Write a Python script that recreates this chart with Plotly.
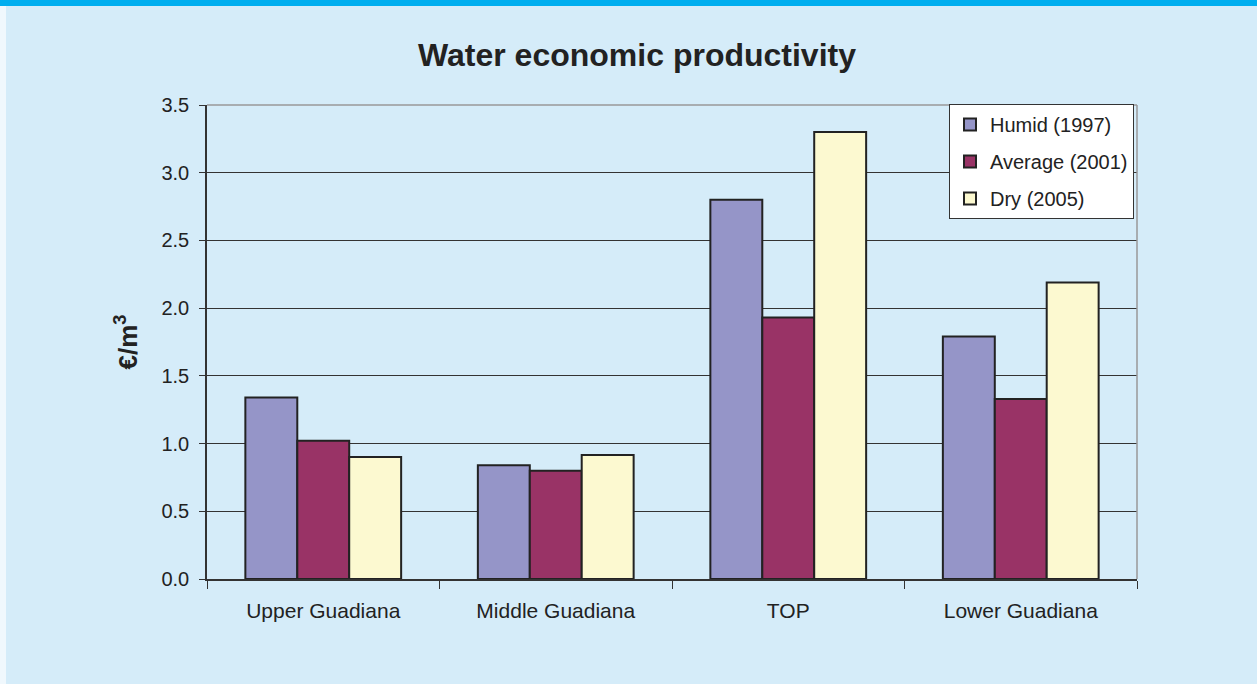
import plotly.graph_objects as go

categories = ["Upper Guadiana", "Middle Guadiana", "TOP", "Lower Guadiana"]
humid_1997 = [1.34, 0.84, 2.80, 1.79]
average_2001 = [1.02, 0.80, 1.93, 1.33]
dry_2005 = [0.90, 0.915, 3.30, 2.19]
y_ticks = [0.0, 0.5, 1.0, 1.5, 2.0, 2.5, 3.0, 3.5]
y_tick_labels = ["0.0", "0.5", "1.0", "1.5", "2.0", "2.5", "3.0", "3.5"]

series = [
    ("Humid (1997)", humid_1997, "#9595C8"),
    ("Average (2001)", average_2001, "#993366"),
    ("Dry (2005)", dry_2005, "#FCF9D0"),
]

fig = go.Figure()
for i, (name, vals, col) in enumerate(series):
    fig.add_trace(go.Bar(
        x=categories, y=vals, name=name, legendgroup=f"g{i}",
        marker=dict(color=col, line=dict(color="#222222", width=2)),
    ))

L, R, T, B = 207, 120, 105, 105
W, H = 1257, 684
pw, ph = W - L - R, H - T - B

def px_x(p):
    return (p - L) / pw

def px_y(p):
    return (H - B - p) / ph

fig.update_layout(
    width=W, height=H,
    margin=dict(l=L, r=R, t=T, b=B),
    paper_bgcolor="#D5ECF9",
    plot_bgcolor="#D5ECF9",
    barmode="group",
    bargap=0.33,
    bargroupgap=0,
    font=dict(family="Liberation Sans, Arial, sans-serif", size=20, color="#222222"),
    title=dict(text="<b>Water economic productivity</b>", x=637 / W, xref="container",
               xanchor="center", y=1 - 55 / H, yref="container", yanchor="middle",
               font=dict(size=32, color="#222222")),
    legend=dict(x=px_x(949), y=px_y(104), xanchor="left", yanchor="top",
                bgcolor="white", bordercolor="#333333", borderwidth=1,
                font=dict(size=20), tracegroupgap=8, itemwidth=30),
    showlegend=True,
    xaxis=dict(showline=True, linecolor="#333333", linewidth=1.5,
               ticks="outside", tickson="boundaries", ticklen=8, tickcolor="#333333",
               showgrid=False, ticklabelstandoff=12,
               tickfont=dict(size=21, color="#222222")),
    yaxis=dict(range=[0, 3.5], tickvals=y_ticks, ticktext=y_tick_labels,
               showline=True, linecolor="#333333", linewidth=1.5,
               ticks="outside", ticklen=6, tickcolor="#333333",
               showgrid=True, gridcolor="#333333", gridwidth=1,
               zeroline=False, ticklabelstandoff=6,
               tickfont=dict(size=20, color="#222222"),
               title=dict(text="<b>€/m<sup>3</sup></b>", font=dict(size=26), standoff=16)),
    shapes=[
        dict(type="rect", xref="paper", yref="paper", x0=px_x(0), x1=px_x(W),
             y0=px_y(6), y1=px_y(0), fillcolor="#00AEEF", line=dict(width=0), layer="below"),
        dict(type="rect", xref="paper", yref="paper", x0=px_x(0), x1=px_x(6),
             y0=px_y(H), y1=px_y(6), fillcolor="#F0F8FD", line=dict(width=0), layer="below"),
        dict(type="line", xref="paper", yref="paper", x0=0, x1=1, y0=1, y1=1,
             line=dict(color="#999999", width=1.5)),
        dict(type="line", xref="paper", yref="paper", x0=1, x1=1, y0=0, y1=1,
             line=dict(color="#999999", width=1.5)),
    ],
)

fig.write_html("out.html", config={"displayModeBar": False},
               post_script="document.body.style.margin='0';")
